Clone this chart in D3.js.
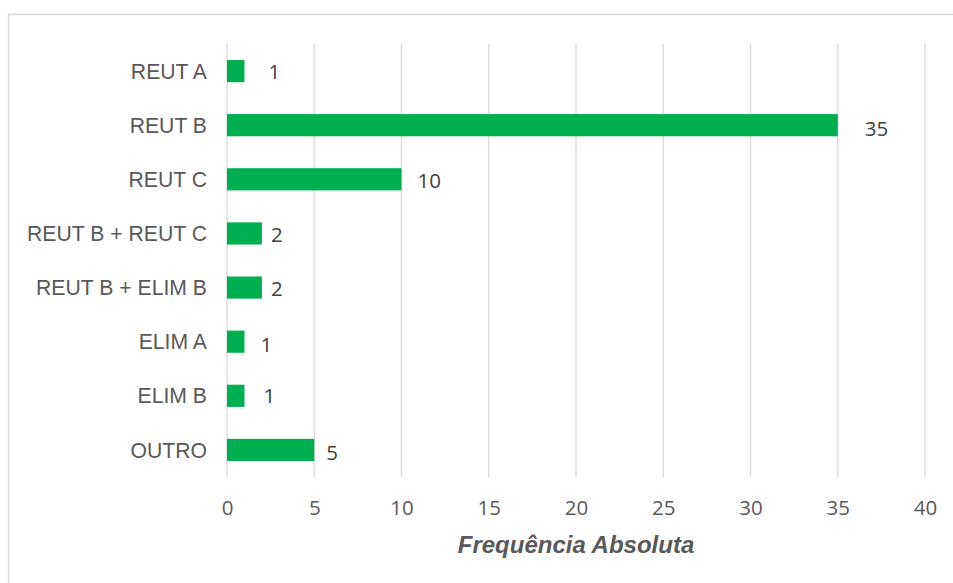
<!DOCTYPE html>
<html>
<head>
<meta charset="utf-8">
<script src="https://cdn.jsdelivr.net/npm/d3@7"></script>
<style>
  html, body { margin: 0; padding: 0; background: #fff; }
  svg { display: block; }
</style>
</head>
<body>
<svg id="chart" width="953" height="583"></svg>
<script>
// Categories, top to bottom, and their absolute frequencies
const categories = ["REUT A", "REUT B", "REUT C", "REUT B + REUT C", "REUT B + ELIM B", "ELIM A", "ELIM B", "OUTRO"];
const values = [1, 35, 10, 2, 2, 1, 1, 5];
const xTicks = [0, 5, 10, 15, 20, 25, 30, 35, 40];
const axisTitle = "Frequência Absoluta";

// Hand-placed data label offsets (px from bar end / bar centre)
const labelDx = [24, 27, 16, 9, 9, 16, 19, 12];
const labelDy = [1, 3, 1, 1, 1, 3, 0, 3];

const svg = d3.select("#chart");
const W = 953, H = 583;

// Outer chart frame
svg.append("rect")
  .attr("x", 8.5).attr("y", 14.5)
  .attr("width", W + 20).attr("height", H + 20)
  .attr("fill", "#fff")
  .attr("stroke", "#d9d9d9").attr("stroke-width", 1.5);

const plot = { left: 227, right: 925, top: 44, bottom: 477 };

const x = d3.scaleLinear().domain([0, 40]).range([plot.left, plot.right]);
const y = d3.scaleBand().domain(categories)
  .range([plot.top, plot.bottom])
  .paddingInner(0.59).paddingOuter(0.295);

// Vertical gridlines
svg.append("g")
  .selectAll("line")
  .data(xTicks)
  .join("line")
  .attr("x1", d => x(d)).attr("x2", d => x(d))
  .attr("y1", plot.top).attr("y2", plot.bottom)
  .attr("stroke", "#d9d9d9").attr("stroke-width", 1.3);

// Bottom axis tick labels
const xAxis = d3.axisBottom(x).tickValues(xTicks).tickSize(0).tickPadding(0).tickFormat(d3.format("d"));
const gx = svg.append("g")
  .attr("transform", `translate(0, ${plot.bottom})`)
  .call(xAxis);
gx.select(".domain").remove();
gx.selectAll("text")
  .attr("y", 38)
  .attr("dy", null)
  .attr("fill", "#595959")
  .style("font-family", "'Open Sans', sans-serif")
  .style("font-size", "20.5px");

// Category labels
const yAxis = d3.axisLeft(y).tickSize(0).tickPadding(0);
const gy = svg.append("g")
  .attr("transform", `translate(${plot.left - 20}, 0)`)
  .call(yAxis);
gy.select(".domain").remove();
gy.selectAll("text")
  .attr("fill", "#595959")
  .attr("dy", "0.36em")
  .style("font-family", "'Liberation Sans', Arial, sans-serif")
  .style("font-size", "21.2px");

// Bars
svg.append("g")
  .selectAll("rect")
  .data(categories)
  .join("rect")
  .attr("x", x(0))
  .attr("y", d => y(d))
  .attr("width", (d, i) => x(values[i]) - x(0))
  .attr("height", y.bandwidth())
  .attr("fill", "#00b050");

// Data labels
svg.append("g")
  .selectAll("text")
  .data(categories)
  .join("text")
  .attr("x", (d, i) => x(values[i]) + labelDx[i])
  .attr("y", (d, i) => y(d) + y.bandwidth() / 2 + labelDy[i])
  .attr("dy", "0.36em")
  .attr("fill", "#404040")
  .style("font-family", "'Open Sans', sans-serif")
  .style("font-size", "20.5px")
  .text((d, i) => values[i]);

// Axis title
svg.append("text")
  .attr("x", (plot.left + plot.right) / 2)
  .attr("y", 553)
  .attr("text-anchor", "middle")
  .attr("fill", "#595959")
  .style("font-family", "'Liberation Sans', Arial, sans-serif")
  .style("font-size", "24px")
  .style("font-weight", "bold")
  .style("font-style", "italic")
  .text(axisTitle);
</script>
</body>
</html>
